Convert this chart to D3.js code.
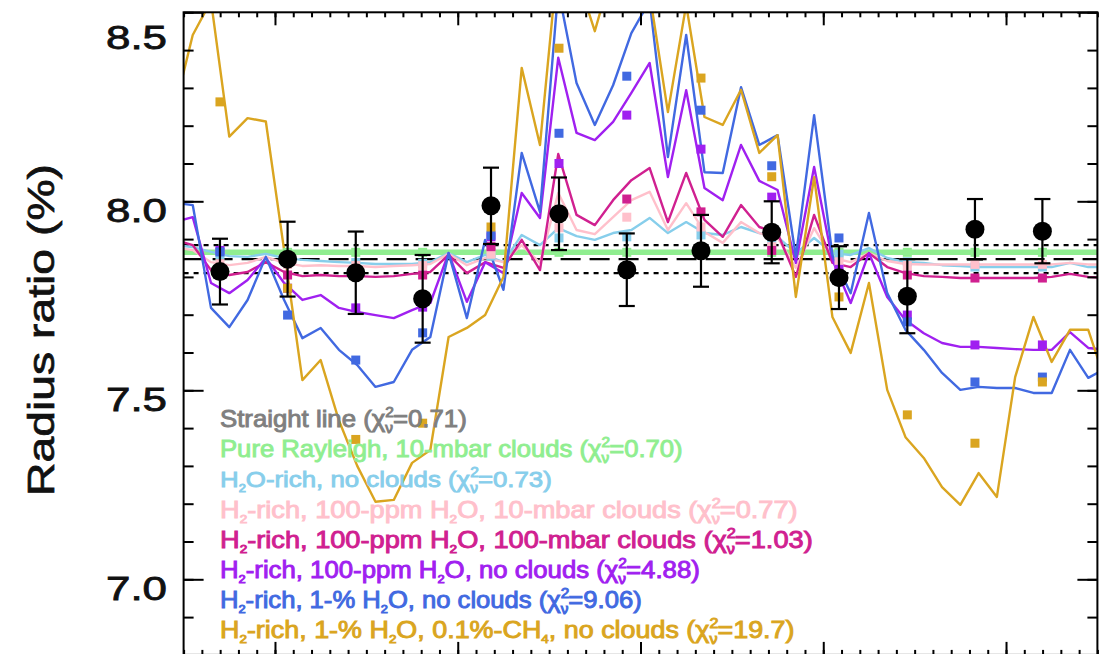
<!DOCTYPE html>
<html><head><meta charset="utf-8">
<script src="https://cdn.jsdelivr.net/npm/d3@7"></script>
<style>
body{margin:0;background:#fff}
svg{display:block}
text{font-family:"Liberation Sans", Arial, Helvetica, sans-serif}
</style>
</head><body>
<svg id="chart" width="1101" height="654"></svg>
<script>
// ---------------- DATA ----------------
// observed spectrum (wavelength in micron, radius ratio in %)
const waveData   = [1.1699,1.2069,1.2442,1.2808,1.3182,1.3554,1.3925,1.4331,1.4718,1.5086,1.5460,1.5830,1.6199];
const radiusData = [7.814,7.847,7.811,7.742,7.988,7.967,7.819,7.869,7.918,7.798,7.749,7.926,7.921];
const radiusErr  = [0.087,0.099,0.109,0.116,0.101,0.096,0.096,0.095,0.082,0.083,0.098,0.080,0.085];

// straight-line fit and its 1-sigma band
const straightLevel = 7.847;
const straightSigma = 0.037;

// pure Rayleigh, 10-mbar clouds (flat)
const rayleighLevel = 7.865;

// model spectra wavelength grid
const modelWave = [1.145,1.155,1.165,1.175,1.185,1.195,1.205,1.215,1.225,1.235,1.245,1.255,1.265,1.275,1.285,1.295,1.305,1.315,1.325,1.335,1.345,1.355,1.365,1.375,1.385,1.395,1.405,1.415,1.425,1.435,1.445,1.455,1.465,1.475,1.485,1.495,1.505,1.515,1.525,1.535,1.545,1.555,1.565,1.575,1.585,1.595,1.605,1.615,1.625,1.635,1.645,1.655];

const modelH2ORich = [7.884,7.879,7.866,7.855,7.853,7.861,7.850,7.845,7.842,7.839,7.837,7.834,7.834,7.834,7.839,7.863,7.839,7.858,7.839,7.911,7.884,7.929,7.908,7.898,7.916,7.924,7.956,7.916,7.945,7.916,7.911,7.932,7.916,7.906,7.863,7.903,7.863,7.858,7.876,7.850,7.839,7.837,7.831,7.829,7.826,7.826,7.826,7.826,7.826,7.837,7.826,7.826];
const modelH2Cloud10 = [7.879,7.871,7.839,7.831,7.837,7.853,7.837,7.829,7.831,7.829,7.829,7.826,7.829,7.831,7.834,7.861,7.831,7.850,7.839,7.884,7.837,8.022,7.924,7.913,7.958,8.003,8.025,7.924,7.995,7.919,7.890,7.945,7.916,7.903,7.824,7.929,7.850,7.839,7.863,7.842,7.834,7.833,7.833,7.833,7.833,7.833,7.833,7.833,7.833,7.837,7.833,7.833];
const modelH2Cloud100 = [7.898,7.884,7.818,7.805,7.813,7.839,7.813,7.802,7.805,7.802,7.802,7.800,7.802,7.808,7.813,7.858,7.810,7.839,7.824,7.898,7.818,8.125,7.964,7.937,8.003,8.056,8.088,7.945,8.075,7.951,7.906,7.990,7.932,7.916,7.800,7.964,7.837,7.826,7.863,7.826,7.810,7.802,7.800,7.797,7.797,7.797,7.797,7.797,7.800,7.808,7.800,7.797];
const modelH2NoCloud = [7.945,7.958,7.784,7.757,7.792,7.850,7.784,7.739,7.752,7.718,7.707,7.699,7.691,7.712,7.731,7.863,7.734,7.839,7.810,8.022,7.956,8.380,8.181,8.162,8.210,8.287,8.366,8.064,8.294,8.035,8.003,8.149,8.054,8.030,7.837,8.091,7.845,7.731,7.863,7.747,7.686,7.651,7.625,7.615,7.615,7.612,7.609,7.607,7.607,7.654,7.612,7.607];
const modelH2Water1 = [7.996,7.990,7.718,7.667,7.739,7.853,7.739,7.638,7.665,7.607,7.567,7.509,7.522,7.607,7.641,7.863,7.691,7.898,7.766,8.128,7.972,8.560,8.313,8.202,8.307,8.445,8.530,8.117,8.440,8.077,8.075,8.302,8.149,8.175,7.853,8.228,7.858,7.757,7.969,7.757,7.660,7.607,7.546,7.501,7.509,7.506,7.506,7.493,7.493,7.607,7.533,7.559];
const modelH2Methane = [8.242,8.440,8.530,8.171,8.220,8.211,7.871,7.527,7.580,7.420,7.300,7.205,7.210,7.308,7.342,7.641,7.665,7.699,7.800,8.353,8.149,8.650,8.600,8.450,8.620,8.600,8.550,8.236,8.520,8.223,8.202,8.295,8.128,8.175,7.747,8.064,7.694,7.599,7.784,7.501,7.376,7.321,7.244,7.197,7.281,7.218,7.535,7.694,7.575,7.660,7.660,7.514];

// band-integrated models at the data wavelengths
const binRayleigh   = [7.865,7.865,7.865,7.865,7.865,7.865,7.865,7.865,7.865,7.865,7.865,7.865,7.865];
const binH2ORich    = [7.858,7.848,7.838,7.836,7.855,7.903,7.906,7.911,7.890,7.860,7.840,7.826,7.826];
const binH2Cloud10  = [7.835,7.833,7.830,7.830,7.860,7.930,7.958,7.932,7.880,7.840,7.830,7.833,7.833];
const binH2Cloud100 = [7.810,7.805,7.805,7.805,7.880,7.960,8.006,7.972,7.870,7.810,7.805,7.797,7.797];
const binH2NoCloud  = [7.870,7.770,7.718,7.720,7.906,8.100,8.228,8.138,8.011,7.820,7.699,7.620,7.620];
const binH2Water1   = [7.866,7.699,7.580,7.652,7.910,8.180,8.331,8.241,8.094,7.903,7.681,7.522,7.535];
const binH2Methane  = [8.263,7.770,7.370,7.413,7.932,8.405,8.560,8.326,8.065,7.747,7.435,7.360,7.522];

// legend labels ({x} = subscript, [2] = chi-square superscript/subscript nu)
const legendLabels = [
  "Straight line (χ[2]=0.71)",
  "Pure Rayleigh, 10-mbar clouds (χ[2]=0.70)",
  "H{2}O-rich, no clouds (χ[2]=0.73)",
  "H{2}-rich, 100-ppm H{2}O, 10-mbar clouds (χ[2]=0.77)",
  "H{2}-rich, 100-ppm H{2}O, 100-mbar clouds (χ[2]=1.03)",
  "H{2}-rich, 100-ppm H{2}O, no clouds (χ[2]=4.88)",
  "H{2}-rich, 1-% H{2}O, no clouds (χ[2]=9.06)",
  "H{2}-rich, 1-% H{2}O, 0.1%-CH{4}, no clouds (χ[2]=19.7)"
];
const yTickValues = [7.0, 7.5, 8.0, 8.5];
const yTickLabels = ["7.0", "7.5", "8.0", "8.5"];
const yTitle = "Radius ratio (%)";

// ---------------- STYLE / LAYOUT ----------------
const colors = {
  straight:"#7f7f7f", rayleigh:"#90ee90", h2o:"#87ceeb", c10:"#ffc0cb",
  c100:"#d02090", noc:"#a020f0", w1:"#4169e1", ch4:"#daa520"
};
const legendColors = [colors.straight, colors.rayleigh, colors.h2o, colors.c10, colors.c100, colors.noc, colors.w1, colors.ch4];
const legendEnds = [467, 683, 552, 798, 813, 700, 642, 795];

const svg = d3.select("#chart");
const x = d3.scaleLinear().domain([1.15, 1.65]).range([183.6, 1097.4]);
const y = d3.scaleLinear().domain([6.8, 8.5]).range([654.9, 12.3]);
const [X0, X1] = x.range();
const [Y0, Y1] = [y.range()[1], y.range()[0]];

svg.append("defs").append("clipPath").attr("id","plotclip")
  .append("rect").attr("x",X0).attr("y",Y0).attr("width",X1-X0).attr("height",Y1-Y0);

const plot = svg.append("g").attr("clip-path","url(#plotclip)");

// Rayleigh flat model, straight line & sigma band
plot.append("line").attr("x1",X0).attr("x2",X1)
  .attr("y1",y(rayleighLevel)).attr("y2",y(rayleighLevel))
  .attr("stroke",colors.rayleigh).attr("stroke-width",5.5);
plot.append("line").attr("x1",X0).attr("x2",X1)
  .attr("y1",y(straightLevel)).attr("y2",y(straightLevel))
  .attr("stroke","#000").attr("stroke-width",2.2).attr("stroke-dasharray","20,9");
[straightLevel+straightSigma, straightLevel-straightSigma].forEach(v=>{
  plot.append("line").attr("x1",X0).attr("x2",X1).attr("y1",y(v)).attr("y2",y(v))
    .attr("stroke","#000").attr("stroke-width",2.2).attr("stroke-dasharray","5,5");
});

const models = [
  {vals:modelH2ORich, bins:binH2ORich, c:colors.h2o},
  {vals:modelH2Cloud10, bins:binH2Cloud10, c:colors.c10},
  {vals:modelH2Cloud100, bins:binH2Cloud100, c:colors.c100},
  {vals:modelH2NoCloud, bins:binH2NoCloud, c:colors.noc},
  {vals:modelH2Water1, bins:binH2Water1, c:colors.w1},
  {vals:modelH2Methane, bins:binH2Methane, c:colors.ch4}
];
const line = d3.line().x(d=>x(d[0])).y(d=>y(d[1]));
models.forEach(m=>{
  plot.append("path").datum(modelWave.map((w,i)=>[w,m.vals[i]]))
    .attr("d",line).attr("fill","none").attr("stroke",m.c)
    .attr("stroke-width",2.4).attr("stroke-linejoin","round");
});
// binned squares (rayleigh first)
const allBins = [{bins:binRayleigh, c:colors.rayleigh}].concat(models);
allBins.forEach(m=>{
  plot.selectAll(null).data(waveData.map((w,i)=>[w,m.bins[i]])).enter()
    .append("rect").attr("x",d=>x(d[0])-4.5).attr("y",d=>y(d[1])-4.5)
    .attr("width",9).attr("height",9).attr("fill",m.c);
});

// data points
const pts = svg.append("g");
waveData.forEach((w,i)=>{
  const cx = x(w), yt = y(radiusData[i]+radiusErr[i]), yb = y(radiusData[i]-radiusErr[i]);
  pts.append("line").attr("x1",cx).attr("x2",cx).attr("y1",yt).attr("y2",yb).attr("stroke","#000").attr("stroke-width",2.2);
  pts.append("line").attr("x1",cx-8).attr("x2",cx+8).attr("y1",yt).attr("y2",yt).attr("stroke","#000").attr("stroke-width",2.2);
  pts.append("line").attr("x1",cx-8).attr("x2",cx+8).attr("y1",yb).attr("y2",yb).attr("stroke","#000").attr("stroke-width",2.2);
  pts.append("circle").attr("cx",cx).attr("cy",y(radiusData[i])).attr("r",9.5).attr("fill","#000");
});

// axes (ticks only; frame drawn separately)
function styleAxis(g){ g.select(".domain").remove(); g.selectAll("text").remove(); g.selectAll("line").attr("stroke","#000").attr("stroke-width",2); }
const xMinor = x.ticks(50), xMajor = x.ticks(5);
const yMinor = y.ticks(17), yMajor = yTickValues;
svg.append("g").attr("transform",`translate(0,${Y0})`).call(d3.axisBottom(x).tickValues(xMinor).tickSize(5).tickSizeOuter(0)).call(styleAxis);
svg.append("g").attr("transform",`translate(0,${Y0})`).call(d3.axisBottom(x).tickValues(xMajor).tickSize(13).tickSizeOuter(0)).call(styleAxis);
svg.append("g").attr("transform",`translate(0,${Y1})`).call(d3.axisTop(x).tickValues(xMinor).tickSize(5).tickSizeOuter(0)).call(styleAxis);
svg.append("g").attr("transform",`translate(0,${Y1})`).call(d3.axisTop(x).tickValues(xMajor).tickSize(13).tickSizeOuter(0)).call(styleAxis);
svg.append("g").attr("transform",`translate(${X0},0)`).call(d3.axisRight(y).tickValues(yMinor).tickSize(10).tickSizeOuter(0)).call(styleAxis);
svg.append("g").attr("transform",`translate(${X0},0)`).call(d3.axisRight(y).tickValues(yMajor).tickSize(20).tickSizeOuter(0)).call(styleAxis);
svg.append("g").attr("transform",`translate(${X1},0)`).call(d3.axisLeft(y).tickValues(yMinor).tickSize(10).tickSizeOuter(0)).call(styleAxis);
svg.append("g").attr("transform",`translate(${X1},0)`).call(d3.axisLeft(y).tickValues(yMajor).tickSize(20).tickSizeOuter(0)).call(styleAxis);

svg.append("rect").attr("x",X0).attr("y",Y0).attr("width",X1-X0).attr("height",Y1-Y0)
  .attr("fill","none").attr("stroke","#000").attr("stroke-width",2);

// y tick labels
yTickValues.forEach((v,i)=>{
  const base = Math.max(y(v)+21, 49);
  svg.append("text").attr("x",167).attr("y",base).attr("text-anchor","end")
    .attr("font-size",33).attr("fill","#111").attr("stroke","#111").attr("stroke-width",0.8)
    .attr("textLength",61).attr("lengthAdjust","spacingAndGlyphs")
    .text(yTickLabels[i]);
});
// y title
svg.append("text").attr("transform","translate(54,330) rotate(-90)")
  .attr("text-anchor","middle").attr("font-size",36).attr("fill","#111").attr("stroke","#111").attr("stroke-width",0.7)
  .attr("textLength",332).attr("lengthAdjust","spacingAndGlyphs")
  .text(yTitle);

// legend
function drawRich(t, str, fs){
  const re = /\{([^}]*)\}|\[([^\]]*)\]|([^{\[]+)/g;
  let m, shift = 0;
  while((m = re.exec(str))){
    if(m[3] !== undefined){
      t.append("tspan").attr("dy",-shift).text(m[3]); shift = 0;
    } else if(m[1] !== undefined){
      t.append("tspan").attr("dy",5-shift).attr("font-size",fs*0.5).text(m[1]); shift = 5;
    } else {
      t.append("tspan").attr("dy",-10-shift).attr("font-size",fs*0.6).text(m[2]);
      t.append("tspan").attr("dx",-fs*0.6*0.556).attr("dy",16).attr("font-size",fs*0.6).text("ν");
      shift = 6;
    }
  }
}
legendLabels.forEach((lab,i)=>{
  const base = 427 + 30.2*i;
  const g = svg.append("g");
  const t = g.append("text").attr("x",0).attr("y",0).attr("font-size",23)
    .attr("fill",legendColors[i]).attr("stroke",legendColors[i]).attr("stroke-width",0.9);
  drawRich(t, lab, 23);
  const w = t.node().getBBox().width;
  const sx = (legendEnds[i]-220)/w;
  g.attr("transform",`translate(220,${base}) scale(${sx},1)`);
});
</script>
</body></html>
